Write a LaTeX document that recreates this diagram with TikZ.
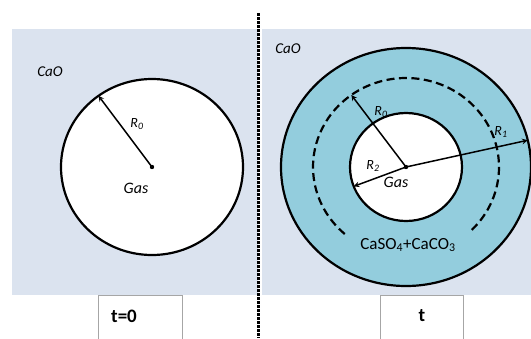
\documentclass[tikz,border=0pt]{standalone}
\usepackage{fontspec}
\setmainfont{Carlito}
\usetikzlibrary{calc}
\definecolor{paleblue}{HTML}{DBE3EF}
\definecolor{shellblue}{HTML}{93CDDD}

\begin{document}
\begin{tikzpicture}[x=1pt, y=-1pt, >=stealth,
  phase/.style={font=\fontsize{15}{18}\selectfont\itshape},
  gaslabel/.style={font=\fontsize{16}{19}\selectfont\itshape},
  radius label/.style={font=\fontsize{14}{16}\selectfont\itshape, inner sep=0pt},
  timelabel/.style={font=\fontsize{19}{22}\selectfont\bfseries},
  rim/.style={line width=2.2pt},
  ray/.style={line width=1.5pt, ->}]
\useasboundingbox (0,0) rectangle (531,338);

% Background panels
\fill[paleblue] (12,29) rectangle (258,295);
\fill[paleblue] (262,29) rectangle (531,295);

% Left: t=0
\coordinate (C0) at (152,167);
\draw[rim, fill=white] (C0) ellipse [x radius=91, y radius=88];
\coordinate (A0) at ($(C0)+(-126:91 and 88)$);
\draw[ray] (C0) -- (A0);
\fill (C0) circle (2.2pt);
\node[radius label] (lab0) at (137,124) {R\textsubscript{0}};
\node[gaslabel] (gas0) at (136,188) {Gas};
\node[phase] (cao0) at (50,72) {CaO};

% Right: t
\coordinate (C1) at (406,167);
\draw[rim, fill=shellblue] (C1) ellipse [x radius=125, y radius=119];
\draw[rim, dash pattern=on 8pt off 4.5pt]
      ($(C1)+(45:93 and 89)$) arc [start angle=45, end angle=-231, x radius=93, y radius=89];
\draw[rim, fill=white] (C1) ellipse [x radius=56, y radius=54];
\coordinate (A1) at ($(C1)+(-126:93 and 89)$);
\coordinate (B1) at ($(C1)+(-13:125 and 119)$);
\coordinate (D1) at ($(C1)+(-201:56 and 54)$);
\draw[ray] (C1) -- (A1);
\draw[ray] (C1) -- (B1);
\draw[ray] (C1) -- (D1);
\fill (C1) circle (2.2pt);
\node[radius label] (lab1) at (381,112) {R\textsubscript{0}};
\node[radius label] (lab2) at (501,132) {R\textsubscript{1}};
\node[radius label] (lab3) at (373,166) {R\textsubscript{2}};
\node[gaslabel] (gas1) at (396,182) {Gas};
\node[font=\fontsize{17}{20}\selectfont] (prod) at (408,245) {CaSO\textsubscript{4}+CaCO\textsubscript{3}};
\node[phase] (cao1) at (288,49) {CaO};

% Divider
\draw[line width=3pt, dash pattern=on 2.6pt off 1.4pt] (258,13) -- (258,338);

% Time boxes
\draw[gray!70, fill=white] (98,295) rectangle (182,345);
\node[timelabel] (t0) at (124,316) {t=0};
\draw[gray!70, fill=white] (380,295) rectangle (463,345);
\node[timelabel] (t1) at (422,316) {t};

\end{tikzpicture}
\end{document}
